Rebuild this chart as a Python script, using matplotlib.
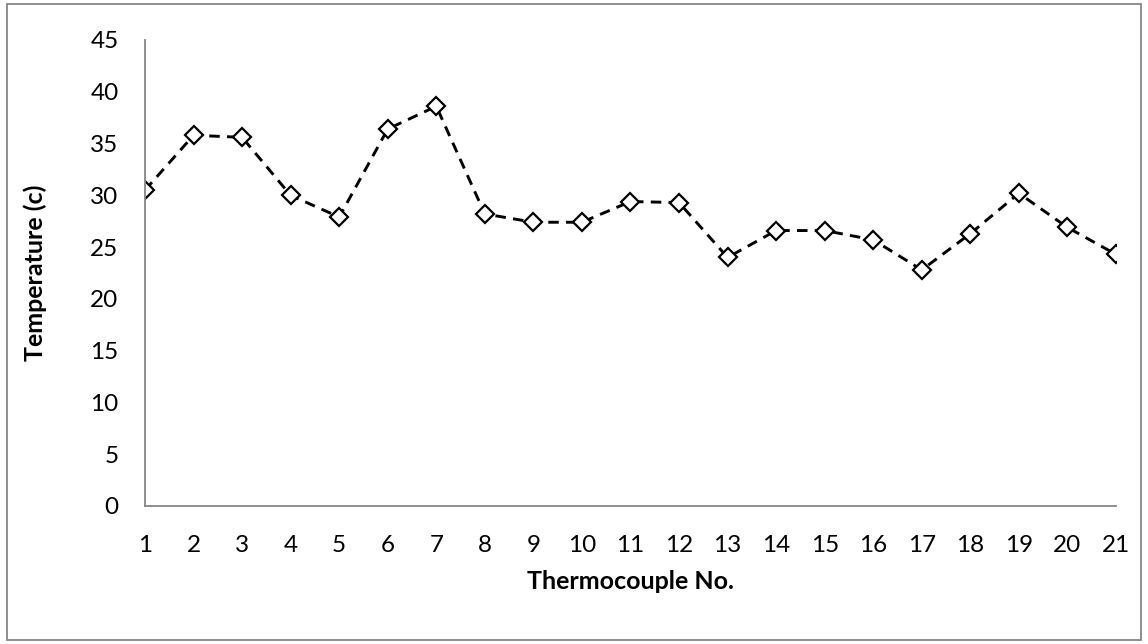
import matplotlib.pyplot as plt
from matplotlib.patches import Rectangle

# temperatures
thermocouple = list(range(1, 22))
temperature = [30.5, 35.8, 35.6, 30.0, 27.9, 36.4, 38.6, 28.2, 27.4, 27.4, 29.4,
               29.3, 24.0, 26.6, 26.6, 25.7, 22.8, 26.3, 30.2, 26.9, 24.3]
y_ticks = [0, 5, 10, 15, 20, 25, 30, 35, 40, 45]

plt.rcParams['font.family'] = ['Lato', 'DejaVu Sans']

fig = plt.figure(figsize=(11.48, 6.44), dpi=100)
ax = fig.add_axes([0.1263, 0.2143, 0.8458, 0.7236])

ax.plot(thermocouple, temperature, color='black', lw=2.1, linestyle=(0, (3.6, 2.5)),
        marker='D', markersize=9, markerfacecolor='white', markeredgecolor='black',
        markeredgewidth=1.6)

ax.set_xlim(1, 21)
ax.set_ylim(0, 45)
ax.set_xticks(thermocouple)
ax.set_yticks(y_ticks)
ax.tick_params(axis='both', length=0, labelsize=17.5)
ax.tick_params(axis='y', pad=19)
ax.tick_params(axis='x', pad=21)

for s in ['top', 'right']:
    ax.spines[s].set_visible(False)
for s in ['left', 'bottom']:
    ax.spines[s].set_color('#868686')
    ax.spines[s].set_linewidth(1.3)

ax.set_xlabel('Thermocouple No.', fontsize=18, fontweight='bold', labelpad=10)
ax.set_ylabel('Temperature (c)', fontsize=18, fontweight='bold', labelpad=31)

fig.patches.append(Rectangle((0.006, 0.006), 0.988, 0.988, transform=fig.transFigure,
                             fill=False, edgecolor='#868686', lw=1.3))

fig.savefig('out.png', dpi=100)
